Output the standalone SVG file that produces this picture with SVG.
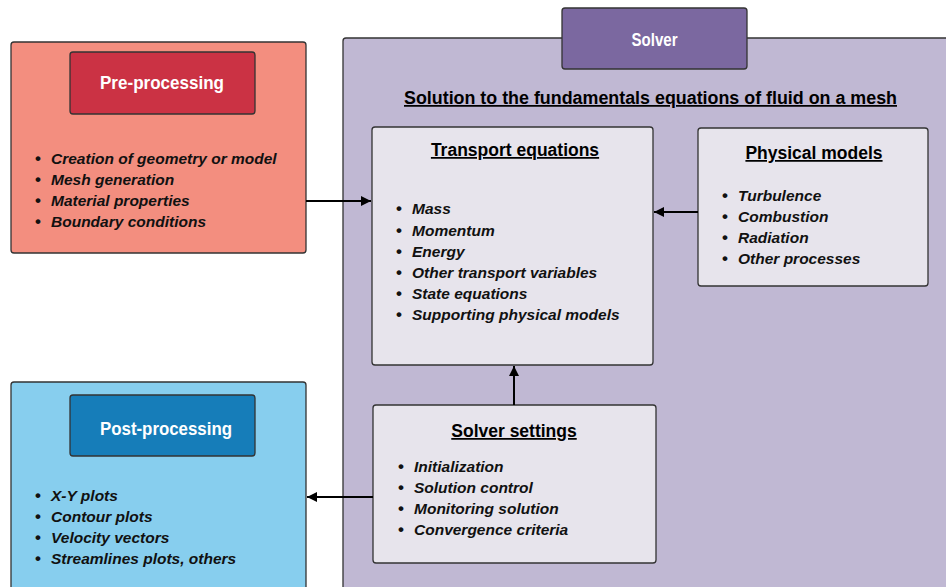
<svg xmlns="http://www.w3.org/2000/svg" width="946" height="587" viewBox="0 0 946 587">
<style>
.box{stroke:#333;stroke-width:1.3}
.ttl{font-family:"Liberation Sans",Arial,sans-serif;font-weight:bold;fill:#fff;text-anchor:middle}
.hd{font-family:"Liberation Sans",Arial,sans-serif;font-weight:bold;fill:#000;text-anchor:middle;text-decoration:underline;font-size:17.5px}
.it{font-family:"Liberation Sans",Arial,sans-serif;font-weight:bold;font-style:italic;fill:#111;font-size:15.5px}
.bl{font-family:"Liberation Sans",Arial,sans-serif;font-weight:bold;fill:#111;font-size:17px}
.cn{stroke:#000;stroke-width:2;fill:none}
</style>
<defs>
<marker id="ah" viewBox="0 0 10 10" refX="10" refY="5" markerWidth="5" markerHeight="5" orient="auto" markerUnits="strokeWidth">
<path d="M0,0 L10,5 L0,10 z" fill="#000"/>
</marker>
</defs>
<rect width="946" height="587" fill="#fff"/>

<g id="solver">
<rect class="box" x="343" y="38" width="630" height="580" rx="3" fill="#C0B8D3"/>
<rect class="box" x="562" y="8" width="185" height="61" rx="3" fill="#7B68A0"/>
<text class="ttl" x="654.5" y="46" font-size="18" textLength="46" lengthAdjust="spacingAndGlyphs">Solver</text>
<text class="hd" x="650.5" y="104" textLength="493" lengthAdjust="spacingAndGlyphs">Solution to the fundamentals equations of fluid on a mesh</text>
</g>

<g id="preprocessing">
<rect class="box" x="11" y="42" width="295" height="211" rx="3" fill="#F38E7F"/>
<rect class="box" x="70" y="52" width="185" height="62" rx="3" fill="#CB3244"/>
<text class="ttl" x="162" y="89" font-size="19" textLength="124" lengthAdjust="spacingAndGlyphs">Pre-processing</text>
<text class="bl" x="35" y="164">•</text><text class="it" x="51" y="164">Creation of geometry or model</text>
<text class="bl" x="35" y="185">•</text><text class="it" x="51" y="185">Mesh generation</text>
<text class="bl" x="35" y="206">•</text><text class="it" x="51" y="206">Material properties</text>
<text class="bl" x="35" y="227">•</text><text class="it" x="51" y="227">Boundary conditions</text>
</g>

<g id="postprocessing">
<rect class="box" x="11" y="382" width="295" height="230" rx="3" fill="#87CEEE"/>
<rect class="box" x="70" y="395" width="185" height="61" rx="3" fill="#167DB9"/>
<text class="ttl" x="166" y="435" font-size="19" textLength="132" lengthAdjust="spacingAndGlyphs">Post-processing</text>
<text class="bl" x="35" y="501">•</text><text class="it" x="51" y="501">X-Y plots</text>
<text class="bl" x="35" y="522">•</text><text class="it" x="51" y="522">Contour plots</text>
<text class="bl" x="35" y="543">•</text><text class="it" x="51" y="543">Velocity vectors</text>
<text class="bl" x="35" y="564">•</text><text class="it" x="51" y="564">Streamlines plots, others</text>
</g>

<g id="transport">
<rect class="box" x="372" y="127" width="281" height="238" rx="3" fill="#E7E4EC"/>
<text class="hd" x="515" y="156">Transport equations</text>
<text class="bl" x="396" y="214">•</text><text class="it" x="412" y="214">Mass</text>
<text class="bl" x="396" y="236">•</text><text class="it" x="412" y="236">Momentum</text>
<text class="bl" x="396" y="257">•</text><text class="it" x="412" y="257">Energy</text>
<text class="bl" x="396" y="278">•</text><text class="it" x="412" y="278">Other transport variables</text>
<text class="bl" x="396" y="299">•</text><text class="it" x="412" y="299">State equations</text>
<text class="bl" x="396" y="320">•</text><text class="it" x="412" y="320">Supporting physical models</text>
</g>

<g id="physical">
<rect class="box" x="698" y="128" width="230" height="158" rx="3" fill="#E7E4EC"/>
<text class="hd" x="814" y="159">Physical models</text>
<text class="bl" x="722" y="201">•</text><text class="it" x="738" y="201">Turbulence</text>
<text class="bl" x="722" y="222">•</text><text class="it" x="738" y="222">Combustion</text>
<text class="bl" x="722" y="243">•</text><text class="it" x="738" y="243">Radiation</text>
<text class="bl" x="722" y="264">•</text><text class="it" x="738" y="264">Other processes</text>
</g>

<g id="settings">
<rect class="box" x="373" y="405" width="283" height="158" rx="3" fill="#E7E4EC"/>
<text class="hd" x="514" y="437">Solver settings</text>
<text class="bl" x="398" y="472">•</text><text class="it" x="414" y="472">Initialization</text>
<text class="bl" x="398" y="493">•</text><text class="it" x="414" y="493">Solution control</text>
<text class="bl" x="398" y="514">•</text><text class="it" x="414" y="514">Monitoring solution</text>
<text class="bl" x="398" y="535">•</text><text class="it" x="414" y="535">Convergence criteria</text>
</g>

<g id="connectors">
<line class="cn" x1="306" y1="201" x2="371" y2="201" marker-end="url(#ah)"/>
<line class="cn" x1="698" y1="212" x2="654" y2="212" marker-end="url(#ah)"/>
<line class="cn" x1="514" y1="405" x2="514" y2="366" marker-end="url(#ah)"/>
<line class="cn" x1="373" y1="497" x2="307" y2="497" marker-end="url(#ah)"/>
</g>
</svg>
